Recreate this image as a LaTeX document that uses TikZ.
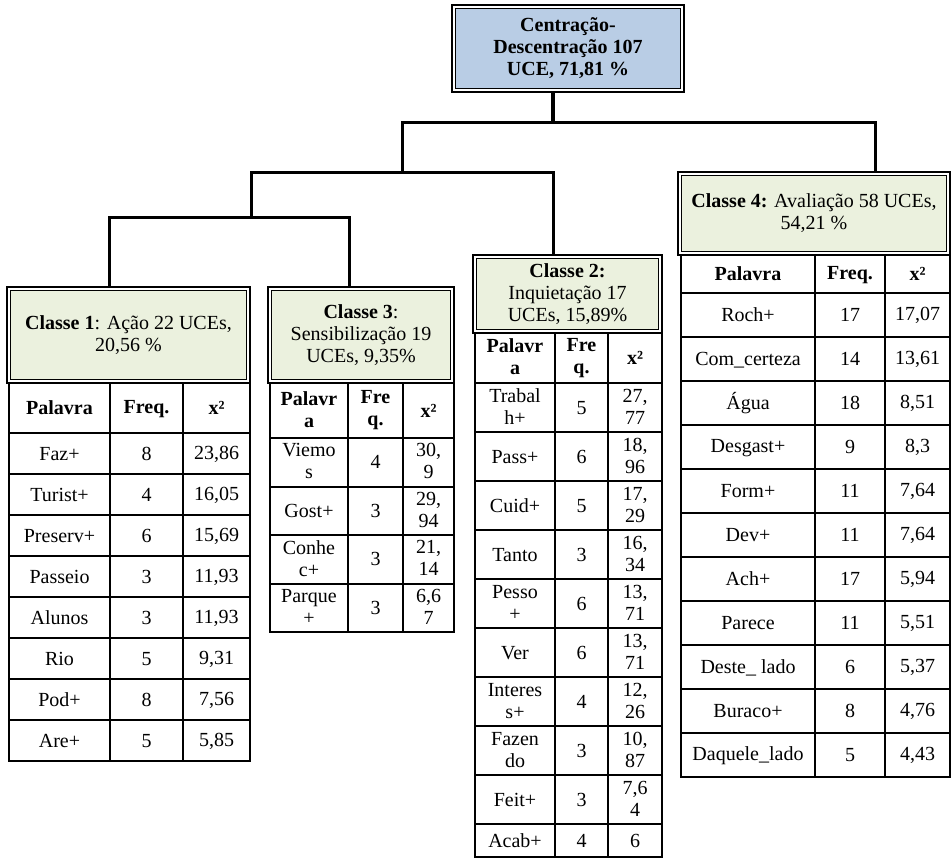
\documentclass[tikz,border=0pt]{standalone}
\usepackage{fontspec}
\setmainfont{Liberation Serif}
\usetikzlibrary{backgrounds}
\definecolor{topblue}{HTML}{B9CDE5}
\definecolor{hdrgreen}{HTML}{EBF1DE}
\newcommand\cstrut{\vrule width 0pt height 15pt depth 2pt\relax}
\newcommand\hdrbox[8]{%
  \node[draw, line width=2.2pt, minimum width={#5-#3}, minimum height={#6-#4}, #2] (#1) at ({(#3+#5)/2},{(#4+#6)/2}) {#8};
  \begin{scope}[on background layer]
    \filldraw[fill=#7, line width=1.1pt] ([xshift=4.5pt,yshift=-4.5pt]#1.north west) rectangle ([xshift=-4.5pt,yshift=4.5pt]#1.south east);
  \end{scope}}
\begin{document}
\begin{tikzpicture}[x=1pt,y=-1pt,
  every node/.style={font=\fontsize{20}{22}\selectfont, inner sep=0pt, align=center,
    execute at begin node=\cstrut, execute at end node=\cstrut},
  hd/.style={font=\fontsize{20}{22}\selectfont\bfseries},
  tl/.style={line width=2pt},
  ol/.style={line width=2.6pt},
  conn/.style={line width=3pt}]
\begin{scope}[on background layer]
\fill[white] (0,0) rectangle (952,862);
\end{scope}
\useasboundingbox (0,0) rectangle (952,862);

% header boxes
\hdrbox{top}{hd}{452}{5}{684}{92}{topblue}{Centração-\\Descentração 107\\UCE, 71,81 \%}
\hdrbox{c1}{}{7}{287}{250}{383}{hdrgreen}{\textbf{Classe 1}: Ação 22 UCEs,\\20,56 \%}
\hdrbox{c3}{}{268}{287}{454}{383}{hdrgreen}{\textbf{Classe 3}:\\Sensibilização 19\\UCEs, 9,35\%}
\hdrbox{c2}{}{473}{255}{662}{333}{hdrgreen}{\textbf{Classe 2:}\\Inquietação 17\\UCEs, 15,89\%}
\hdrbox{c4}{}{678}{172}{950}{255}{hdrgreen}{\textbf{Classe 4:} Avaliação 58 UCEs,\\54,21 \%}

% connectors
\coordinate (j0) at (553,122);
\coordinate (jL1) at (402,122);
\coordinate (jR1) at (875,122);
\coordinate (jL2) at (402,172);
\coordinate (jA) at (251,172);
\coordinate (jB) at (553,172);
\coordinate (jC) at (251,217);
\coordinate (jD) at (109,217);
\coordinate (jE) at (349,217);
\draw[line width=4pt] (top.south -| j0) -- (j0);
\draw[conn] (jL2) -- (jL1) -- (jR1) -- (c4.north -| jR1);
\draw[conn] (jC) -- (jA) -- (jB) -- (c2.north -| jB);
\draw[conn] (c1.north -| jD) -- (jD) -- (jE) -- (c3.north -| jE);

% table 1
\draw[ol] (9,383) rectangle (250,761);
\foreach \xx in {110,183} \draw[tl] (\xx,383) -- (\xx,761);
\foreach \yy in {433,474,515,556,597,638,679,720} \draw[tl] (9,\yy) -- (250,\yy);
\node[hd] (t1h1) at (59.5,408) {Palavra};
\node[hd] (t1h2) at (146.5,408) {Freq.};
\node[hd] (t1h3) at (216.5,408) {x²};
\foreach \w/\f/\c [count=\i] in {Faz+/8/{23,86}, Turist+/4/{16,05}, Preserv+/6/{15,69}, Passeio/3/{11,93}, Alunos/3/{11,93}, Rio/5/{9,31}, Pod+/8/{7,56}, Are+/5/{5,85}} {
  \node (t1w\i) at (59.5,{433+41*(\i-0.5)}) {\w};
  \node (t1f\i) at (146.5,{433+41*(\i-0.5)}) {\f};
  \node (t1c\i) at (216.5,{433+41*(\i-0.5)}) {\c};
}

% table 3
\draw[ol] (270,383) rectangle (454,632);
\foreach \xx in {348,403} \draw[tl] (\xx,383) -- (\xx,632);
\foreach \yy in {438,486.5,535,583.5} \draw[tl] (270,\yy) -- (454,\yy);
\node[hd] (t3h1) at (309,410.5) {Palavr\\a};
\node[hd] (t3h2) at (375.5,410.5) {Fre\\q.};
\node[hd] (t3h3) at (428.5,410.5) {x²};
\foreach \w/\f/\c [count=\i] in {Viemo\\s/4/{30,\\9}, Gost+/3/{29,\\94}, Conhe\\c+/3/{21,\\14}, Parque\\+/3/{6,6\\7}} {
  \node (t3w\i) at (309,{438+48.5*(\i-0.5)}) {\w};
  \node (t3f\i) at (375.5,{438+48.5*(\i-0.5)}) {\f};
  \node (t3c\i) at (428.5,{438+48.5*(\i-0.5)}) {\c};
}

% table 2
\draw[ol] (475,333) rectangle (662,857);
\foreach \xx in {555,608} \draw[tl] (\xx,333) -- (\xx,857);
\foreach \yy in {383,432,481,530,579,628,677,726,775,824} \draw[tl] (475,\yy) -- (662,\yy);
\node[hd] (t2h1) at (515,358) {Palavr\\a};
\node[hd] (t2h2) at (581.5,358) {Fre\\q.};
\node[hd] (t2h3) at (635,358) {x²};
\foreach \w/\f/\c [count=\i] in {Trabal\\h+/5/{27,\\77}, Pass+/6/{18,\\96}, Cuid+/5/{17,\\29}, Tanto/3/{16,\\34}, Pesso\\+/6/{13,\\71}, Ver/6/{13,\\71}, Interes\\s+/4/{12,\\26}, Fazen\\do/3/{10,\\87}, Feit+/3/{7,6\\4}} {
  \node (t2w\i) at (515,{383+49*(\i-0.5)}) {\w};
  \node (t2f\i) at (581.5,{383+49*(\i-0.5)}) {\f};
  \node (t2c\i) at (635,{383+49*(\i-0.5)}) {\c};
}
\node (t2w10) at (515,840.5) {Acab+};
\node (t2f10) at (581.5,840.5) {4};
\node (t2c10) at (635,840.5) {6};

% table 4
\draw[ol] (681,255) rectangle (950,777);
\foreach \xx in {815,885} \draw[tl] (\xx,255) -- (\xx,777);
\foreach \yy in {293,337,381,425,469,513,557,601,645,689,733} \draw[tl] (681,\yy) -- (950,\yy);
\node[hd] (t4h1) at (748,274) {Palavra};
\node[hd] (t4h2) at (850,274) {Freq.};
\node[hd] (t4h3) at (917.5,274) {x²};
\foreach \w/\f/\c [count=\i] in {Roch+/17/{17,07}, Com\_certeza/14/{13,61}, Água/18/{8,51}, Desgast+/9/{8,3}, Form+/11/{7,64}, Dev+/11/{7,64}, Ach+/17/{5,94}, Parece/11/{5,51}, Deste\_ lado/6/{5,37}, Buraco+/8/{4,76}, Daquele\_lado/5/{4,43}} {
  \node (t4w\i) at (748,{293+44*(\i-0.5)}) {\w};
  \node (t4f\i) at (850,{293+44*(\i-0.5)}) {\f};
  \node (t4c\i) at (917.5,{293+44*(\i-0.5)}) {\c};
}
\end{tikzpicture}
\end{document}
